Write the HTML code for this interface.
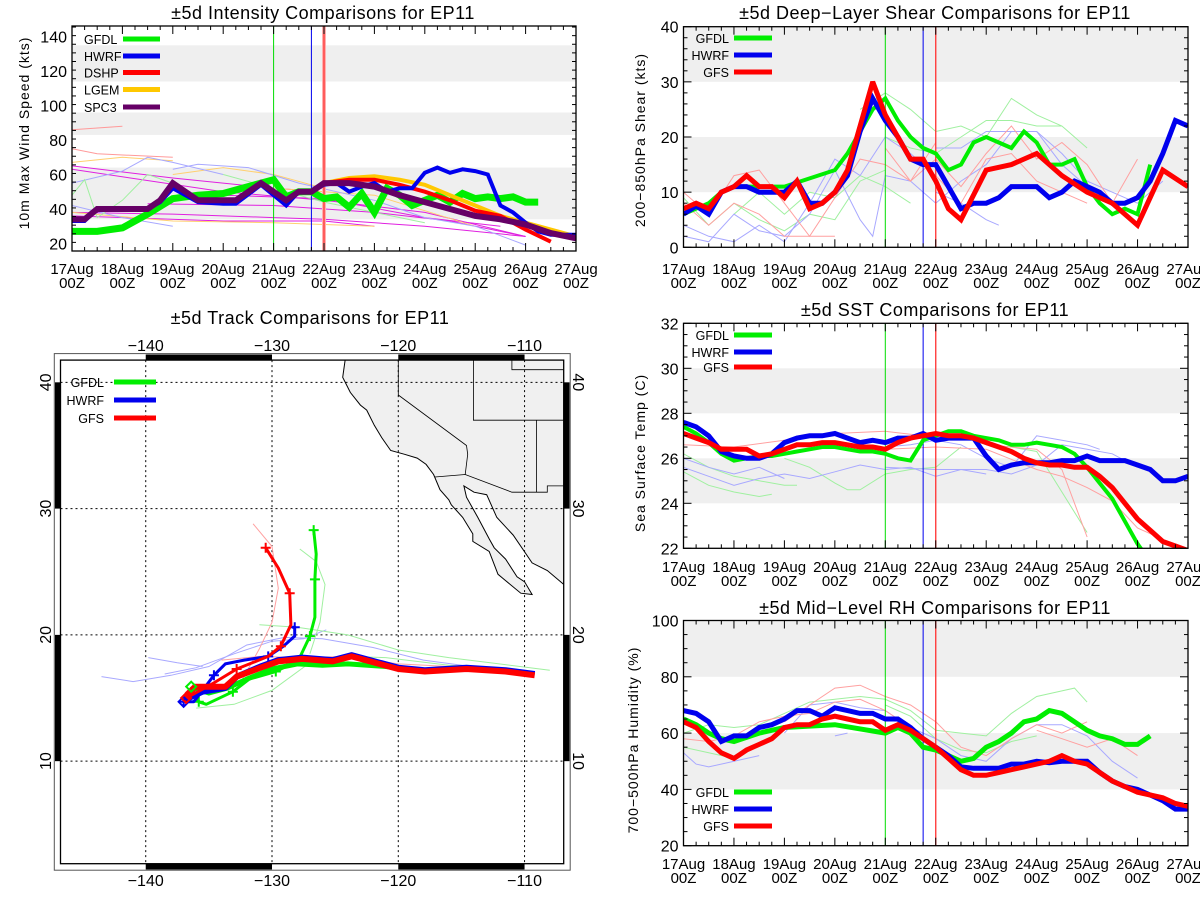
<!DOCTYPE html>
<html><head><meta charset="utf-8"><title>EP11 ±5d Comparisons</title>
<style>
html,body{margin:0;padding:0;background:#fff;}
svg{display:block;font-family:"Liberation Sans",sans-serif;}
</style></head>
<body>
<svg id="root" width="1200" height="900" viewBox="0 0 1200 900" xmlns="http://www.w3.org/2000/svg">
<rect x="0" y="0" width="1200" height="900" fill="#fff"/>
</svg>
<script>
// ---------- shared ----------
const dayLabels = ["17Aug","18Aug","19Aug","20Aug","21Aug","22Aug","23Aug","24Aug","25Aug","26Aug","27Aug"];
const markerHours = [96, 114, 120];

// ---------- intensity ----------
const intTicks = [20,40,60,80,100,120,140];
const intBands = [[34,64],[83,96],[114,135]];
const gfdlIntH = [0,12,24,36,48,60,72,78,90,96,102,108,114,120,126,132,138,144,150,156,162,168,174,180,186,192,198,204,210,216,222];
const gfdlIntV = [27,27,29,37,46,48,49,51,55,57,47,50,50,46,47,41,49,38,52,48,42,45,48,44,49,46,47,46,47,44,44];
const hwrfIntH = [0,6,12,24,36,42,48,60,72,78,90,102,108,114,120,126,132,138,144,150,156,162,168,174,180,186,192,198,204,210,216,222,228,240];
const hwrfIntV = [33,33,40,40,40,44,52,44,43,43,54,42,50,50,54,55,50,53,55,50,52,52,61,64,61,63,62,60,42,38,32,27,25,25];
const dshpIntH = [120,132,144,156,168,180,192,204,216,228];
const dshpIntV = [55,57,57,54,50,45,39,36,28,21];
const lgemIntH = [120,132,144,156,168,180,192,204,216,228,240];
const lgemIntV = [55,58,59,57,54,48,42,36,32,28,24];
const spc3IntH = [0,6,12,24,36,42,48,60,72,78,90,102,108,114,120,132,144,156,168,180,192,204,216,228,240];
const spc3IntV = [34,34,40,40,40,45,55,45,45,45,55,45,50,50,55,55,53,48,44,40,36,34,31,26,23];
const intThin = [
 {c:"#ff9a9a", h:[0,24], v:[86,88]},
 {c:"#ff9a9a", h:[0,12,48], v:[75,72,70]},
 {c:"#e020e0", h:[0,48,96,120], v:[65,58,52,50]},
 {c:"#e020e0", h:[0,72,120,168,216], v:[63,50,45,38,24]},
 {c:"#e020e0", h:[0,48,96,120,168,216], v:[38,37,35,34,30,24]},
 {c:"#e020e0", h:[0,72,120,144], v:[36,33,33,30]},
 {c:"#e020e0", h:[72,120,168,204], v:[48,46,35,30]},
 {c:"#e020e0", h:[36,96,144,180,216], v:[43,42,38,33,24]},
 {c:"#ffd070", h:[0,24,48], v:[67,70,68]},
 {c:"#ffd070", h:[48,72,96,120], v:[60,64,60,52]},
 {c:"#ffd070", h:[0,48,96,144], v:[38,33,32,30]},
 {c:"#ffd070", h:[96,144,192], v:[52,48,30]},
 {c:"#a8a8ff", h:[0,24,36,48,72], v:[55,62,70,67,60]},
 {c:"#a8a8ff", h:[48,60,84,108,144,168,192,216], v:[63,66,64,55,45,35,30,19]},
 {c:"#a8a8ff", h:[0,24,48], v:[42,35,30]},
 {c:"#a0f0a0", h:[0,6,12,24,36,48], v:[48,57,35,45,60,55]},
 {c:"#a0f0a0", h:[72,96,120,144,168], v:[60,52,44,38,32]}
];

// ---------- shear ----------
const shrTicks = [0,10,20,30,40];
const shrBands = [[10,20],[30,40]];
const gfdlShrH = [0,12,18,24,36,48,72,78,84,90,96,102,108,114,120,126,132,138,144,150,156,162,168,174,180,186,192,198,204,210,216,222];
const gfdlShrV = [6,8,10,11,11,11,14,17,21,25,27,23,20,18,17,14,15,19,20,19,18,21,19,15,15,16,11,8,6,7,6,15];
const hwrfShrH = [0,6,12,18,24,30,36,42,48,54,60,66,72,78,84,90,96,102,108,114,120,126,132,138,144,150,156,162,168,174,180,186,192,198,204,210,216,222,228,234,240];
const hwrfShrV = [6,7.5,6,10,11,11,10,10,10,12,8,8,10,13,21,27,23,20,16,15,15,11,7,8,8,9,11,11,11,9,10,12,11,10,8,8,9,12,17,23,22];
const gfsShrH = [0,6,12,18,24,30,36,42,48,54,60,66,72,78,84,90,96,102,108,114,120,126,132,144,156,168,180,192,204,216,228,240];
const gfsShrV = [7,8,7,10,11,13,11,11,9,12,7,8,10,14,22,30,24,20,16,16,12,7,5,14,15,17,13,10,8,4,14,11];
const shrThin = [
 {c:"#a0f0a0", h:[84,96,108,120,132,144,156,168,180,192], v:[25,28,25,21,22,20,27,24,22,18]},
 {c:"#a0f0a0", h:[96,108,120,132,144,156,168,180], v:[20,18,17,20,23,23,22,22]},
 {c:"#a0f0a0", h:[0,12,24,36,48,60,72,84,96], v:[9,4,8,5,3,6,5,12,14]},
 {c:"#a0f0a0", h:[24,36,48,60,72,84,96,108], v:[6,10,6,10,9,13,11,8]},
 {c:"#a8a8ff", h:[0,12,24,36,48,60,72,84,96,108,120], v:[4,2,1,4,1,8,16,13,20,17,13]},
 {c:"#a8a8ff", h:[0,12,24,36,48,60,72,84,90,96,108,120,132,144,156,168,180,192], v:[2,1,6,3,2,6,14,5,2,13,12,8,12,15,21,21,15,11]},
 {c:"#a8a8ff", h:[120,132,144,156,168,180,192,204,216,228], v:[18,18,21,21,21,17,12,10,8,12]},
 {c:"#a8a8ff", h:[120,132,144,150], v:[10,8,5,4]},
 {c:"#ffa0a0", h:[0,12,24,36,48,60,72,84,96,108,120], v:[10,6,13,14,8,2,9,16,15,12,19]},
 {c:"#ffa0a0", h:[0,12,24,36,48,60,72], v:[8,4,8,6,2,2,2]},
 {c:"#ffa0a0", h:[96,108,120,132,144,156,168,180,192,204,216], v:[18,12,16,11,17,22,16,19,15,8,16]},
 {c:"#ffa0a0", h:[120,132,144,156,168,180,192], v:[13,8,16,17,12,10,8]}
];

// ---------- SST ----------
const sstTicks = [22,24,26,28,30,32];
const sstBands = [[24,26],[28,30]];
const gfdlSstH = [0,6,12,18,24,30,36,42,48,54,60,66,72,78,84,90,96,102,108,114,120,126,132,138,144,150,156,162,168,174,180,186,192,198,204,210,216,219];
const gfdlSstV = [27.4,27.1,26.7,26.2,25.9,26.0,26.1,26.1,26.2,26.3,26.4,26.5,26.5,26.4,26.3,26.3,26.2,26.0,25.9,26.8,27.0,27.2,27.2,27.0,26.9,26.8,26.6,26.6,26.7,26.6,26.5,26.2,25.6,24.9,24.2,23.2,22.2,21.8];
const hwrfSstH = [0,6,12,18,24,30,36,42,48,54,60,66,72,78,84,90,96,102,108,114,120,126,132,138,144,150,156,162,168,174,180,186,192,198,204,210,216,222,228,234,240];
const hwrfSstV = [27.6,27.4,27.0,26.3,26.1,26.0,26.0,26.2,26.7,26.9,27.0,27.0,27.1,26.9,26.7,26.8,26.7,26.9,26.9,27.1,26.8,26.9,26.9,26.9,26.1,25.5,25.7,25.8,25.8,25.8,25.9,25.9,26.1,25.9,25.9,25.9,25.7,25.5,25.0,25.0,25.2];
const gfsSstH = [0,6,12,18,24,30,36,42,48,54,60,66,72,78,84,90,96,102,108,114,120,126,132,138,144,150,156,162,168,174,180,186,192,198,204,210,216,222,228,234,240];
const gfsSstV = [27.1,26.9,26.7,26.4,26.4,26.4,26.1,26.2,26.4,26.6,26.6,26.7,26.7,26.6,26.5,26.5,26.4,26.7,26.9,27.0,27.1,27.0,27.0,26.9,26.7,26.5,26.3,26.0,25.8,25.7,25.7,25.6,25.6,25.2,24.7,24.0,23.3,22.8,22.3,22.1,21.9];
const sstThin = [
 {c:"#a0f0a0", h:[0,12,24,36,42], v:[25.4,24.8,24.5,24.3,24.4]},
 {c:"#a0f0a0", h:[0,12,24,36,48,54], v:[26.2,25.6,25.2,25.0,24.8,24.8]},
 {c:"#a0f0a0", h:[48,60,72,78,84,96,108,120,132], v:[26.0,25.6,24.9,24.6,24.6,25.3,25.5,25.6,26.5]},
 {c:"#a0f0a0", h:[144,156,168,180,192], v:[26.6,26.5,26.3,24.5,22.7]},
 {c:"#a8a8ff", h:[0,12,24,36,48,60,72,84,96,108,120,132,144], v:[25.6,25.2,24.8,25.1,25.3,25.1,25.4,25.7,25.5,25.6,25.2,25.5,25.3]},
 {c:"#a8a8ff", h:[0,12,24,36,48], v:[26.0,25.6,25.3,25.6,25.1]},
 {c:"#a8a8ff", h:[96,120,144,156,168,180,192,204,216], v:[25.6,25.5,25.5,25.3,25.7,26.6,26.4,26.2,25.6]},
 {c:"#a8a8ff", h:[96,108,120,132,144,156,168,180,192,198], v:[26.5,26.6,26.8,26.6,26.0,25.6,27.0,26.8,26.6,26.4]},
 {c:"#ffa0a0", h:[0,24,48,72,96,114], v:[26.6,26.5,26.8,27.1,27.2,27.0]},
 {c:"#ffa0a0", h:[96,120,144,168,180,192,204,216,228], v:[26.4,26.5,26.4,25.5,25.2,24.7,24.1,22.9,22.4]},
 {c:"#ffa0a0", h:[144,168,180,192], v:[26.6,26.4,25.5,22.5]}
];

// ---------- RH ----------
const rhTicks = [20,40,60,80,100];
const rhBands = [[40,60],[80,100]];
const gfdlRhH = [0,6,12,18,24,36,48,72,96,102,108,114,120,126,132,138,144,150,156,162,168,174,180,186,192,198,204,210,216,222];
const gfdlRhV = [65,63,60,58,57,60,62,63,60,62,60,55,54,52,50,51,55,57,60,64,65,68,67,64,61,59,58,56,56,59];
const hwrfRhH = [0,6,12,18,24,30,36,42,48,54,60,66,72,78,84,90,96,102,108,114,120,126,132,138,144,150,156,162,168,174,180,186,192,198,204,210,216,222,228,234,240];
const hwrfRhV = [68,67,64,57,59,59,62,63,65,68,68,66,69,68,67,67,65,65,62,58,55,52,48,47.5,47.5,47.5,49,49,50,49.5,50,50,50,46,43,41,40,38,36,33,33];
const gfsRhH = [0,6,12,18,24,30,36,42,48,54,60,66,72,78,84,90,96,102,108,114,120,126,132,138,144,150,156,162,168,174,180,186,192,198,204,210,216,222,228,234,240];
const gfsRhV = [64,62,57,53,51,54,56,58,62,63,63,65,66,65,64,64,61,63,61,58,55,51,47,45,45,46,47,48,49,50,52,50,49,46,43,41,39,38,37,35,34];
const rhThin = [
 {c:"#a0f0a0", h:[0,12,24,36,48,60,72,84,96,108,120,132,144,156,168,180,186,192], v:[60,63,62,63,67,71,72,73,72,68,61,60,59,67,73,75,76,71]},
 {c:"#a0f0a0", h:[0,12,24], v:[55,53,51]},
 {c:"#a0f0a0", h:[96,108,120,132,144,156,168], v:[70,66,58,54,53,57,59]},
 {c:"#a8a8ff", h:[0,6,12,24,36], v:[53,49,48,50,52]},
 {c:"#a8a8ff", h:[48,60,72,84,96,108,120,132,144,156,168,180,192,204,216], v:[60,70,71,69,68,62,58,52,50,58,63,63,59,50,44]},
 {c:"#a8a8ff", h:[72,78], v:[59,60]},
 {c:"#ffa0a0", h:[48,60,72,84,96,108,120,132,144,156,168,180,192], v:[64,70,76,77,73,70,64,55,52,58,63,60,64]},
 {c:"#ffa0a0", h:[0,12,24,36,48,60,72,84,96,108,120], v:[58,57,59,64,66,67,71,72,68,62,56]},
 {c:"#ffa0a0", h:[168,180,192,204,216], v:[61,58,55,58,52]}
];

// ---------- track ----------
const lonTicks = [-140,-130,-120,-110];
const latTicks = [10,20,30,40];
const gfsTrkLon = [-109.2,-111.5,-114.6,-117.9,-120.0,-123.7,-125.2,-127.6,-129.5,-130.9,-132.8,-133.7,-136.1,-136.7,-136.8];
const gfsTrkLat = [16.8,17.1,17.3,17.1,17.3,18.3,17.9,18.1,17.9,17.4,16.7,15.9,15.9,15.3,14.9];
const gfsTrk2Lon = [-136.8,-134.6,-132.8,-130.3,-129.3,-128.5,-128.6,-129.5,-130.5];
const gfsTrk2Lat = [15.0,16.2,17.3,18.3,19.1,20.8,23.3,25.3,26.9];
const hwrfTrkLon = [-109.2,-111.5,-114.6,-117.9,-120.0,-123.7,-125.2,-127.6,-129.5,-130.9,-132.8,-133.7,-135.5,-136.6,-137.0];
const hwrfTrkLat = [16.9,17.2,17.4,17.2,17.4,18.4,18.0,18.2,18.0,17.5,16.7,15.8,15.5,15.0,14.8];
const hwrfTrk2Lon = [-137.0,-136.2,-135.5,-134.6,-133.7,-132.2,-130.3,-129.1,-128.2,-128.2,-128.4];
const hwrfTrk2Lat = [14.7,14.7,15.6,16.8,17.7,18.0,18.3,19.1,19.9,20.6,20.6];
const gfdlTrkLon = [-110.0,-112.0,-115.0,-118.0,-121.0,-124.0,-126.0,-128.0,-130.0,-132.0,-133.5,-135.0,-136.2];
const gfdlTrkLat = [17.0,17.2,17.4,17.2,17.5,17.7,17.6,17.7,17.3,16.5,15.8,15.4,15.8];
const gfdlTrk2Lon = [-126.7,-126.5,-126.6,-126.6,-127.0,-127.9,-129.7,-131.8,-133.1,-135.2,-135.8,-136.4];
const gfdlTrk2Lat = [28.3,26.4,24.4,21.4,19.9,18.0,17.1,16.5,15.5,14.5,14.7,15.9];
const trkThin = [
 {c:"#a8a8ff", lon:[-143.5,-141,-138,-135,-132,-129,-126,-122,-118,-112], lat:[16.7,16.3,16.8,17.5,19.2,19.8,19.7,19.0,18.0,17.2]},
 {c:"#a8a8ff", lon:[-139.8,-137.5,-135.5], lat:[18.2,17.8,17.5]},
 {c:"#a8a8ff", lon:[-138.5,-136,-133,-130,-127.5,-125.7], lat:[16.9,17.4,18.5,19.5,19.7,20.4]},
 {c:"#a0f0a0", lon:[-131,-128,-124,-120,-116,-112,-108], lat:[20.8,20.6,20.0,18.8,18.2,17.7,17.2]},
 {c:"#a0f0a0", lon:[-136,-133,-130,-127,-124,-121,-116,-112], lat:[14.2,14.5,15.6,17.8,18.3,18.2,17.6,17.4]},
 {c:"#a0f0a0", lon:[-127,-126.2,-125.8,-126.5,-127.8], lat:[18.5,21,24,25.8,26.8]},
 {c:"#ffa0a0", lon:[-131.5,-130,-129.5,-130,-131,-132.5], lat:[28.8,27,23.7,21,18.9,16.2]},
 {c:"#ffa0a0", lon:[-134,-131,-128,-124,-120,-114], lat:[18.0,18.3,18.2,18.3,17.7,17.4]}
];
const coastLon = [-124.2,-124.4,-123.8,-123.0,-122.5,-121.9,-121.3,-120.6,-119.5,-118.5,-117.8,-117.2,-116.7,-116.0,-115.8,-114.9,-114.1,-114.1,-112.8,-112.1,-111.5,-110.3,-109.4,-110.0,-110.6,-111.5,-112.4,-112.8,-113.7,-114.6,-114.8,-114.0,-113.0,-112.2,-110.9,-109.4,-108.2,-106.9];
const coastLat = [41.8,40.4,39.2,38.2,37.8,36.6,35.6,34.6,34.3,34.0,33.5,32.7,31.5,30.7,30.3,29.3,28.0,27.4,26.6,24.8,24.3,23.3,23.2,24.2,24.6,26.0,26.9,27.6,29.3,30.9,31.8,31.3,31.1,29.3,27.9,25.7,25.1,24.0];

// ---------- helpers ----------
const NS = "http://www.w3.org/2000/svg";
const root = document.getElementById("root");
function el(tag, attrs, parent){
  const e = document.createElementNS(NS, tag);
  for (const k in attrs) e.setAttribute(k, attrs[k]);
  (parent||root).appendChild(e);
  return e;
}
function txt(s, x, y, size, anchor, parent){
  const t = el("text", {x:x, y:y, "font-size":size, "text-anchor":anchor||"middle", fill:"#000"}, parent);
  t.textContent = s;
  return t;
}

function timeChart(cfg){
  const g = el("g", {});
  
  
  const L=cfg.L, R=cfg.R, T=cfg.T, B=cfg.B;
  const sx = h => L + h/240*(R-L);
  const sy = v => B - (v-cfg.ymin)/(cfg.ymax-cfg.ymin)*(B-T);
  const clipId = cfg.name+"-clip";
  const cp = el("clipPath", {id:clipId}, g);
  el("rect", {x:L, y:T, width:R-L, height:B-T}, cp);
  cfg.bands.forEach(b=>{
    const y1 = sy(Math.min(b[1], cfg.ymax)), y2 = sy(b[0]);
    const r = el("rect", {x:L, y:y1, width:R-L, height:y2-y1, fill:"#efefef"}, g);
    
    
  });
  const plot = el("g", {"clip-path":"url(#"+clipId+")"}, g);
  cfg.thin.forEach(s=>{
    const d = s.h.map((h,i)=>(i?"L":"M")+sx(h).toFixed(1)+","+sy(s.v[i]).toFixed(1)).join("");
    const p = el("path", {d:d, fill:"none", stroke:s.c, "stroke-width":1}, plot);
    
    
  });
  const mcol = ["#00dd00","#0000ee","#ff3030"];
  markerHours.forEach((h,i)=>{
    const x = sx(h);
    if (i===2 && cfg.name==="intensity-chart"){
      el("rect", {x:x-2, y:T, width:4, height:B-T, fill:"#ffb0b0"}, plot);
    }
    const ln = el("line", {x1:x, x2:x, y1:T, y2:B, stroke:mcol[i], "stroke-width":i===2?1.3:1}, plot);
    
    
  });
  cfg.series.forEach(s=>{
    const d = s.h.map((h,i)=>(i?"L":"M")+sx(h).toFixed(1)+","+sy(s.v[i]).toFixed(1)).join("");
    const p = el("path", {d:d, fill:"none", stroke:s.c, "stroke-width":s.w, "stroke-linejoin":"miter", "stroke-miterlimit":3}, plot);
    
    
  });
  el("rect", {x:L, y:T, width:R-L, height:B-T, fill:"none", stroke:"#000", "stroke-width":1.3}, g);
  for (let h=0; h<=240; h+=6){
    const x = sx(h), len = (h%24===0)?8:4;
    el("line", {x1:x, x2:x, y1:B, y2:B-len, stroke:"#000", "stroke-width":1}, g);
    el("line", {x1:x, x2:x, y1:T, y2:T+len, stroke:"#000", "stroke-width":1}, g);
  }
  dayLabels.forEach((d,i)=>{
    const x = sx(i*24);
    const t1 = txt(d, x, cfg.xl1, 15, "middle", g);
    
    
    const t2 = txt("00Z", x, cfg.xl2, 15, "middle", g);
    
    
  });
  for (let v=cfg.ymin; v<=cfg.ymax+1e-6; v+=cfg.minor){
    const y = sy(v);
    if (y<T-0.5||y>B+0.5) continue;
    const major = cfg.ticks.some(t=>Math.abs(t-v)<1e-6);
    const len = major?8:4;
    el("line", {x1:L, x2:L+len, y1:y, y2:y, stroke:"#000", "stroke-width":1}, g);
    el("line", {x1:R, x2:R-len, y1:y, y2:y, stroke:"#000", "stroke-width":1}, g);
  }
  cfg.ticks.forEach(v=>{
    const t = txt(String(v), L-5, sy(v)+6, 16, "end", g);
    
    
  });
  const yt = el("text", {x:0, y:0, "font-size":14, "text-anchor":"middle", "letter-spacing":"1", transform:"translate("+cfg.ytx+","+cfg.yty+") rotate(-90)"}, g);
  yt.textContent = cfg.ytitle;
  
  
  const tt = txt(cfg.title, cfg.tx, cfg.ty, 18, "middle", g);
  tt.setAttribute("letter-spacing", "0.5");
  
  
  cfg.legend.forEach((s,i)=>{
    const y = cfg.ly[i];
    const lt = txt(s.n.toUpperCase(), cfg.ltx, y+5, 12.5, cfg.lanchor, g);
    
    
    const ll = el("line", {x1:cfg.lx1, x2:cfg.lx2, y1:y, y2:y, stroke:s.c, "stroke-width":5}, g);
    
    
  });
}

const GREEN="#00ee00", BLUE="#0000ee", RED="#ff0000", YEL="#ffc800", PURP="#660066";
timeChart({name:"intensity-chart", L:72, R:576, T:26, B:251, ymin:15.6, ymax:146.2, ticks:intTicks, minor:5, bands:intBands, thin:intThin,
  series:[{n:"gfdl",h:gfdlIntH,v:gfdlIntV,c:GREEN,w:7},{n:"lgem",h:lgemIntH,v:lgemIntV,c:YEL,w:4},{n:"dshp",h:dshpIntH,v:dshpIntV,c:RED,w:4},{n:"hwrf",h:hwrfIntH,v:hwrfIntV,c:BLUE,w:4},{n:"spc3",h:spc3IntH,v:spc3IntV,c:PURP,w:6}],
  legend:[{n:"gfdl",c:GREEN},{n:"hwrf",c:BLUE},{n:"dshp",c:RED},{n:"lgem",c:YEL},{n:"spc3",c:PURP}],
  ly:[39,56,72.5,89.5,107], ltx:84, lanchor:"start", lx1:123, lx2:160,
  xl1:274, xl2:288, ytx:29, yty:133, ytitle:"10m Max Wind Speed (kts)", title:"±5d Intensity Comparisons for EP11", tx:323, ty:19});

timeChart({name:"shear-chart", L:683.5, R:1188, T:26.7, B:247.3, ymin:0, ymax:40, ticks:shrTicks, minor:2, bands:shrBands, thin:shrThin,
  series:[{n:"gfdl",h:gfdlShrH,v:gfdlShrV,c:GREEN,w:4},{n:"hwrf",h:hwrfShrH,v:hwrfShrV,c:BLUE,w:5},{n:"gfs",h:gfsShrH,v:gfsShrV,c:RED,w:5}],
  legend:[{n:"gfdl",c:GREEN},{n:"hwrf",c:BLUE},{n:"gfs",c:RED}],
  ly:[38,55,72], ltx:729, lanchor:"end", lx1:734, lx2:772,
  xl1:274, xl2:288, ytx:645, yty:140, ytitle:"200−850hPa Shear (kts)", title:"±5d Deep−Layer Shear Comparisons for EP11", tx:935, ty:19});

timeChart({name:"sst-chart", L:683.5, R:1188, T:323.3, B:548.3, ymin:22, ymax:32, ticks:sstTicks, minor:0.5, bands:sstBands, thin:sstThin,
  series:[{n:"gfdl",h:gfdlSstH,v:gfdlSstV,c:GREEN,w:4},{n:"hwrf",h:hwrfSstH,v:hwrfSstV,c:BLUE,w:5},{n:"gfs",h:gfsSstH,v:gfsSstV,c:RED,w:5}],
  legend:[{n:"gfdl",c:GREEN},{n:"hwrf",c:BLUE},{n:"gfs",c:RED}],
  ly:[335,352,367], ltx:729, lanchor:"end", lx1:734, lx2:772,
  xl1:572, xl2:586, ytx:645, yty:453, ytitle:"Sea Surface Temp (C)", title:"±5d SST Comparisons for EP11", tx:935, ty:316});

timeChart({name:"rh-chart", L:683.5, R:1188, T:620.5, B:845.7, ymin:20, ymax:100, ticks:rhTicks, minor:5, bands:rhBands, thin:rhThin,
  series:[{n:"gfdl",h:gfdlRhH,v:gfdlRhV,c:GREEN,w:5},{n:"hwrf",h:hwrfRhH,v:hwrfRhV,c:BLUE,w:5},{n:"gfs",h:gfsRhH,v:gfsRhV,c:RED,w:5}],
  legend:[{n:"gfdl",c:GREEN},{n:"hwrf",c:BLUE},{n:"gfs",c:RED}],
  ly:[792,809,826], ltx:729, lanchor:"end", lx1:734, lx2:772,
  xl1:869, xl2:883, ytx:638, yty:740, ytitle:"700−500hPa Humidity (%)", title:"±5d Mid−Level RH Comparisons for EP11", tx:935, ty:614});

(function(){
  const g = el("g", {});
  
  
  const L=60.5, R=563.7, T=360.1, B=863.7;
  const lonMin=-146.75, lonMax=-106.9, latMin=1.88, latMax=41.76;
  const px = lon => L + (lon-lonMin)/(lonMax-lonMin)*(R-L);
  const py = lat => B - (lat-latMin)/(latMax-latMin)*(B-T);
  const cp = el("clipPath", {id:"map-clip"}, g);
  el("rect", {x:L, y:T, width:R-L, height:B-T}, cp);
  const m = el("g", {"clip-path":"url(#map-clip)"}, g);
  let d = coastLon.map((lo,i)=>(i?"L":"M")+px(lo).toFixed(1)+","+py(coastLat[i]).toFixed(1)).join("");
  d += "L"+(R+5)+","+py(24)+"L"+(R+5)+","+(T-5)+"L"+px(-124.2)+","+(T-5)+"Z";
  const land = el("path", {d:d, fill:"#f0f0f0", stroke:"#000", "stroke-width":1}, m);
  
  
  const borders = [
    [[-120,42],[-120,39],[-114.6,35],[-114.5,34.3],[-114.7,32.7]],
    [[-117.1,32.5],[-114.7,32.7],[-111,31.3],[-108.2,31.3],[-108.2,31.8],[-106.5,31.8]],
    [[-114.05,42],[-114.05,37],[-106,37]],
    [[-109.05,37],[-109.05,31.3]],
    [[-111,42],[-111,41],[-106,41]]
  ];
  borders.forEach(b=>{
    const p = el("path", {d:b.map((q,i)=>(i?"L":"M")+px(q[0]).toFixed(1)+","+py(q[1]).toFixed(1)).join(""), fill:"none", stroke:"#000", "stroke-width":0.8}, m);
    
    
  });
  lonTicks.forEach(lo=>{
    const l = el("line", {x1:px(lo), x2:px(lo), y1:T, y2:B, stroke:"#000", "stroke-width":1, "stroke-dasharray":"2,3"}, m);
    
    
  });
  latTicks.forEach(la=>{
    const l = el("line", {x1:L, x2:R, y1:py(la), y2:py(la), stroke:"#000", "stroke-width":1, "stroke-dasharray":"2,3"}, m);
    
    
  });
  trkThin.forEach(s=>{
    const p = el("path", {d:s.lon.map((lo,i)=>(i?"L":"M")+px(lo).toFixed(1)+","+py(s.lat[i]).toFixed(1)).join(""), fill:"none", stroke:s.c, "stroke-width":1}, m);
    
    
  });
  function track(lon, lat, c, w, name){
    const p = el("path", {d:lon.map((lo,i)=>(i?"L":"M")+px(lo).toFixed(1)+","+py(lat[i]).toFixed(1)).join(""), fill:"none", stroke:c, "stroke-width":w, "stroke-linejoin":"round"}, m);
    
    
  }
  function crosses(lon, lat, c, every){
    lon.forEach((lo,i)=>{
      if (i%every) return;
      const x=px(lo), y=py(lat[i]);
      el("path", {d:"M"+(x-5)+","+y+"L"+(x+5)+","+y+"M"+x+","+(y-5)+"L"+x+","+(y+5), stroke:c, "stroke-width":2}, m);
    });
  }
  track(gfdlTrk2Lon, gfdlTrk2Lat, GREEN, 3, "gfdl-track-2");
  crosses(gfdlTrk2Lon, gfdlTrk2Lat, GREEN, 2);
  track(gfdlTrkLon, gfdlTrkLat, GREEN, 5, "gfdl-track");
  track(hwrfTrk2Lon, hwrfTrk2Lat, BLUE, 3, "hwrf-track-2");
  crosses(hwrfTrk2Lon, hwrfTrk2Lat, BLUE, 3);
  track(hwrfTrkLon, hwrfTrkLat, BLUE, 6, "hwrf-track");
  track(gfsTrk2Lon, gfsTrk2Lat, RED, 3, "gfs-track-2");
  crosses(gfsTrk2Lon, gfsTrk2Lat, RED, 2);
  track(gfsTrkLon, gfsTrkLat, RED, 6, "gfs-track");
  [[gfdlTrk2Lon,gfdlTrk2Lat,GREEN],[hwrfTrk2Lon,hwrfTrk2Lat,BLUE],[gfsTrk2Lon,gfsTrk2Lat,RED]].forEach(a=>{
    const i = a[0].length-1, j=0;
    const x = px(a[0][a[2]===GREEN?i:j]), y = py(a[1][a[2]===GREEN?i:j]);
    el("path", {d:"M"+x+","+(y-5)+"L"+(x+5)+","+y+"L"+x+","+(y+5)+"L"+(x-5)+","+y+"Z", fill:"none", stroke:a[2], "stroke-width":2}, m);
  });
  el("rect", {x:54.3, y:353.6, width:570.2-54.3, height:870.2-353.6, fill:"none", stroke:"#555", "stroke-width":1}, g);
  el("rect", {x:L, y:T, width:R-L, height:B-T, fill:"none", stroke:"#000", "stroke-width":1.3}, g);
  [[-140,-130],[-120,-110]].forEach(b=>{
    el("rect", {x:px(b[0]), y:354.5, width:px(b[1])-px(b[0]), height:T-354.5, fill:"#000"}, g);
    el("rect", {x:px(b[0]), y:B, width:px(b[1])-px(b[0]), height:869.5-B, fill:"#000"}, g);
  });
  [[10,20],[30,40]].forEach(b=>{
    el("rect", {x:55, y:py(b[1]), width:L-55, height:py(b[0])-py(b[1]), fill:"#000"}, g);
    el("rect", {x:R, y:py(b[1]), width:569.5-R, height:py(b[0])-py(b[1]), fill:"#000"}, g);
  });
  lonTicks.forEach(lo=>{
    const s = "−"+Math.abs(lo);
    const a = txt(s, px(lo), 351, 16, "middle", g);
    
    
    const b = txt(s, px(lo), 886, 16, "middle", g);
    
    
  });
  latTicks.forEach(la=>{
    const a = el("text", {x:0, y:0, "font-size":16, "text-anchor":"middle", transform:"translate(51,"+py(la)+") rotate(-90)"}, g);
    a.textContent = String(la);
    
    
    const b = el("text", {x:0, y:0, "font-size":16, "text-anchor":"middle", transform:"translate(573,"+py(la)+") rotate(90)"}, g);
    b.textContent = String(la);
    
    
  });
  const tt = txt("±5d Track Comparisons for EP11", 310, 324, 18, "middle", g);
  tt.setAttribute("letter-spacing", "0.5");
  
  
  [["GFDL",GREEN,382],["HWRF",BLUE,400],["GFS",RED,418]].forEach(l=>{
    const lt = txt(l[0], 104, l[2]+5, 12.5, "end", g);
    
    
    const ll = el("line", {x1:114, x2:156, y1:l[2], y2:l[2], stroke:l[1], "stroke-width":5}, g);
    
    
  });
})();
</script>
</body></html>
